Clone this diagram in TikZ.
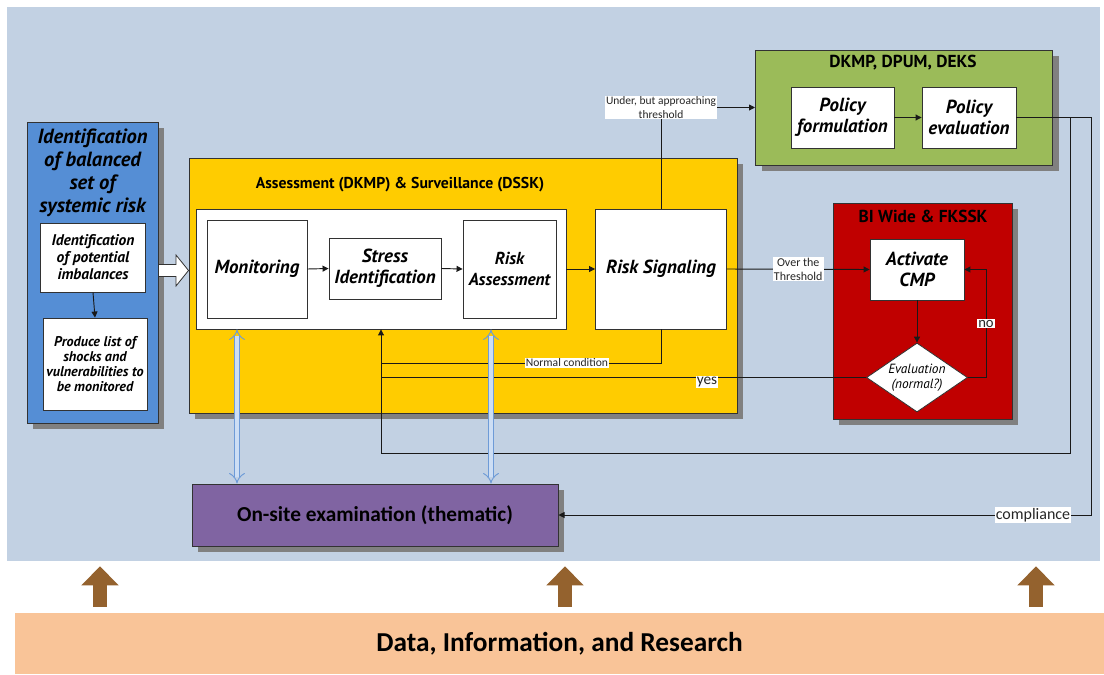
\documentclass[tikz,border=0pt]{standalone}
\usepackage{fontspec}
\setmainfont{PT Sans}
\newfontfamily\lblfont{Carlito}
\usetikzlibrary{arrows.meta,shapes.geometric,shadows,calc}
\newlength\px \setlength\px{0.75pt}
\definecolor{panelc}{RGB}{194,209,227}
\definecolor{bluebox}{RGB}{85,142,213}
\definecolor{yellowbox}{RGB}{255,204,0}
\definecolor{greenbox}{RGB}{155,187,89}
\definecolor{redbox}{RGB}{192,0,0}
\definecolor{purplebox}{RGB}{128,100,162}
\definecolor{orangebar}{RGB}{249,196,152}
\definecolor{brownarr}{RGB}{148,98,46}
\definecolor{shadowc}{RGB}{128,128,128}
\definecolor{dblout}{RGB}{110,155,215}
\definecolor{dblin}{RGB}{205,222,244}
\definecolor{edgec}{RGB}{50,50,50}
\tikzset{
  cont/.style={draw=edgec, line width=1\px, inner sep=0pt,
    drop shadow={shadow xshift=6\px, shadow yshift=-6\px, fill=shadowc, opacity=1}},
  wbox/.style={draw=edgec, line width=0.9\px, fill=white, inner sep=0pt, align=center,
    font=\bfseries\itshape\fontsize{14.2}{16}\selectfont},
  ttl/.style={font=\bfseries\fontsize{12}{13}\selectfont, inner sep=0pt},
  arr/.style={line width=0.7pt, draw=black!90, -{Triangle[length=4.5pt,width=4.5pt]}},
  ln/.style={line width=0.7pt, draw=black!90},
  lbl/.style={fill=white, inner sep=1\px, align=center, text=black!85,
    font=\lblfont\fontsize{8.6}{8.6}\selectfont},
  dbl/.style={draw=dblout, double=dblin, double distance=3.5pt, line width=0.7pt,
    {Implies}-{Implies}},
  brarr/.style={draw=brownarr, line width=10.5pt,
    -{Triangle[length=14.25pt,width=27pt]}},
}
\begin{document}
\begin{tikzpicture}[x=0.75pt,y=-0.75pt]
\useasboundingbox (0,0) rectangle (1104,675);
\fill[white] (0,0) rectangle (1104,675);
\node[fill=panelc, minimum width=1093\px, minimum height=554\px, inner sep=0pt] (panel) at (553.5,284) {};
\node[fill=orangebar, minimum width=1089\px, minimum height=61\px, inner sep=0pt,
  font=\lblfont\bfseries\fontsize{20.5}{22}\selectfont] (data) at (559.5,643.5) {Data, Information, and Research};

% brown arrows
\coordinate (ba1) at (100,0);
\coordinate (ba2) at (565,0);
\coordinate (ba3) at (1036,0);
\draw[brarr, shorten <=4.5pt, shorten >=3.75pt] (data.north -| ba1) -- (panel.south -| ba1);
\draw[brarr, shorten <=4.5pt, shorten >=3.75pt] (data.north -| ba2) -- (panel.south -| ba2);
\draw[brarr, shorten <=4.5pt, shorten >=3.75pt] (data.north -| ba3) -- (panel.south -| ba3);

% left blue box
\node[cont, fill=bluebox, minimum width=131\px, minimum height=301\px] (blue) at (92.5,272.5) {};
\node[align=center, inner sep=0pt, font=\bfseries\itshape\fontsize{15.4}{17.3}\selectfont] (bluet) at (92.5,173) {Identification\\of balanced\\set of\\systemic risk};
\node[wbox, minimum width=105\px, minimum height=69\px, font=\bfseries\itshape\fontsize{11.6}{12.8}\selectfont] (idp) at (93,257.5) {Identification\\of potential\\imbalances};
\node[wbox, minimum width=104\px, minimum height=92\px, font=\bfseries\itshape\fontsize{10.6}{11.3}\selectfont] (plist) at (95,364) {Produce list of\\shocks and\\vulnerabilities to\\be monitored};
\draw[arr] (idp.south) -- (plist.north);

% yellow box
\node[cont, fill=yellowbox, minimum width=548\px, minimum height=255\px] (yellow) at (463,285.5) {};
\node[ttl, font=\bfseries\fontsize{11.8}{13}\selectfont] (yellowt) at (400,185) {Assessment (DKMP) \& Surveillance (DSSK)};
\node[draw=edgec, line width=0.9\px, fill=white, minimum width=370\px, minimum height=120\px, inner sep=0pt] (inner) at (381,269) {};
\node[wbox, minimum width=100\px, minimum height=98\px] (mon) at (257,269) {Monitoring};
\node[wbox, minimum width=112\px, minimum height=61\px] (stress) at (385,268.5) {Stress\\Identification};
\node[wbox, minimum width=93\px, minimum height=98\px, font=\bfseries\itshape\fontsize{13}{15.5}\selectfont] (riska) at (509.5,269) {Risk\\Assessment};
\node[wbox, minimum width=131\px, minimum height=120\px] (rs) at (661,269) {Risk Signaling};

% white block arrow
\draw[fill=white, draw=edgec, line width=0.6pt]
  (blue.east |- 0,264.5) -- (176,264.5) -- (176,255) -- (yellow.west |- 0,270.5)
  -- (176,286) -- (176,276.5) -- (blue.east |- 0,276.5) -- cycle;

% green box
\node[cont, fill=greenbox, minimum width=297\px, minimum height=115\px] (green) at (904,107.5) {};
\node[ttl, font=\bfseries\fontsize{13}{14}\selectfont] (greent) at (903,63) {DKMP, DPUM, DEKS};
\node[wbox, minimum width=103\px, minimum height=61\px] (polform) at (842.5,117.5) {Policy\\formulation};
\node[wbox, minimum width=94\px, minimum height=61\px] (poleval) at (969,117.5) {Policy\\evaluation};
\draw[arr] (polform) -- (poleval);

% red box
\node[cont, fill=redbox, minimum width=179\px, minimum height=216\px] (red) at (922.5,311) {};
\node[ttl, font=\bfseries\fontsize{13}{14}\selectfont] (redt) at (923,216) {BI Wide \& FKSSK};
\node[wbox, minimum width=94\px, minimum height=61\px] (act) at (917,269.5) {Activate\\CMP};
\node[diamond, draw=edgec, line width=0.6pt, fill=white, minimum width=101\px, minimum height=69\px, inner sep=0pt, aspect=1.46, align=center,
  font=\itshape\fontsize{10}{11.5}\selectfont] (diam) at (917,377.5) {Evaluation\\(normal?)};

% on-site
\node[cont, fill=purplebox, minimum width=366\px, minimum height=62\px,
  font=\lblfont\bfseries\fontsize{16}{18}\selectfont] (onsite) at (375,515) {On-site examination (thematic)};

% connectors
\draw[arr] (mon.east) -- (stress.west);
\draw[arr] (stress.east) -- (riska.west);
\draw[arr] (inner.east) -- (rs.west);
\draw[arr] (rs.north) -- (rs.north |- green.west) node[lbl, font=\lblfont\fontsize{8.6}{10}\selectfont] {Under, but approaching\\threshold} -- (green.west);
\draw[arr] (rs.east) -- node[lbl, font=\lblfont\fontsize{9}{10}\selectfont] {Over the\\Threshold} (act.west);
\draw[arr] (act.south) -- (diam.north);
\coordinate (nox) at (986,0);
\draw[arr] (diam.east) -- (diam.east -| nox) -- node[lbl, font=\lblfont\fontsize{11}{11}\selectfont] {no} (act.east -| nox) -- (act.east);
\coordinate (ny) at (0,363);
\draw[ln] (rs.south) -- (rs.south |- ny) -- node[lbl, pos=0.336, font=\lblfont\fontsize{8.7}{8.7}\selectfont] {Normal condition} (inner.south |- ny);
\draw[ln] (diam.west) -- node[lbl, pos=0.328, yshift=-4.5\px, font=\lblfont\fontsize{11.5}{11.5}\selectfont] {yes} (diam.west -| inner.south);
\coordinate (lx) at (1070,0);
\coordinate (ly) at (0,453);
\coordinate (cx) at (1091,0);
\draw[arr] (poleval.east -| lx) -- (lx |- ly) -- (inner.south |- ly) -- (inner.south);
\draw[arr] (poleval.east) -- (poleval.east -| cx) -- (cx |- onsite.east) -- node[lbl, pos=0.109, font=\lblfont\fontsize{12}{12}\selectfont] {compliance} (onsite.east);

% blue double arrows
\coordinate (d1) at (237,0);
\coordinate (d2) at (491,0);
\draw[dbl] (d1 |- inner.south) -- (d1 |- onsite.north);
\draw[dbl] (d2 |- inner.south) -- (d2 |- onsite.north);
\end{tikzpicture}
\end{document}
